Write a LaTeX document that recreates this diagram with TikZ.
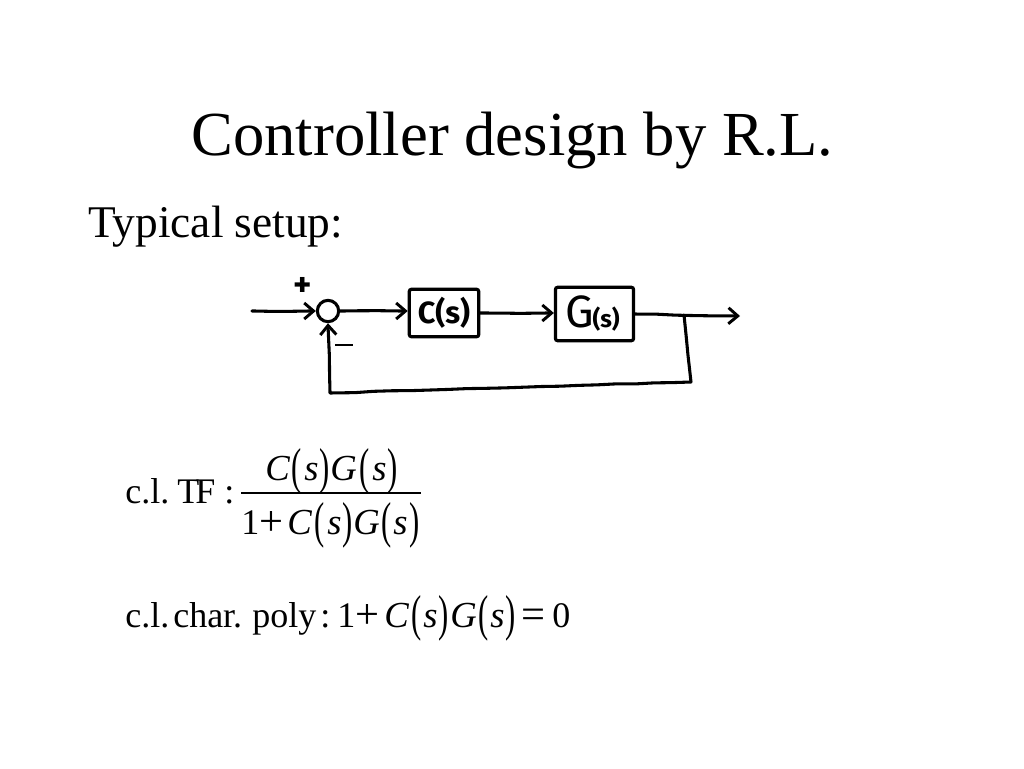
\documentclass[tikz,border=0pt]{standalone}
\usepackage{fontspec}
\setmainfont{Liberation Serif}
\newfontfamily\handfont{Fira Sans}
\usetikzlibrary{arrows.meta,decorations.pathmorphing}
\tikzset{
 x=0.75pt,y=-0.75pt,
 title/.style={inner sep=0,anchor=base west,font=\fontsize{47}{50}\selectfont},
 body/.style={inner sep=0,anchor=base west,font=\fontsize{34}{40}\selectfont},
 mathrm/.style={inner sep=0,anchor=base west,font=\fontsize{27}{30}\selectfont},
 mathit/.style={mathrm,font=\fontsize{27.5}{30}\selectfont\itshape},
 paren/.style={inner sep=0,anchor=base west,font=\fontsize{27}{30}\selectfont},
 hand/.style={line width=2.3pt,line cap=round,line join=round,black,decorate,decoration={random steps,segment length=14pt,amplitude=0.35pt,post length=5pt,pre length=2pt}},
 handarrow/.style={hand,-{Straight Barb[length=7pt,width=12pt,line width=2.2pt]}},
 block/.style={draw,line width=2.4pt,rounded corners=1.5pt,inner sep=0,font=\handfont},
 sum/.style={draw,circle,line width=2.3pt,inner sep=0,minimum size=16pt},
 sign/.style={inner sep=0,font=\handfont\bfseries\fontsize{26}{26}\selectfont},
}
\newcommand{\tallp}[1]{\raisebox{-2.6pt}{\scalebox{0.85}[1.4]{#1}}}
\newcommand{\bigop}[1]{\raisebox{-1pt}{\scalebox{1.18}{#1}}}
\begin{document}
\begin{tikzpicture}
\useasboundingbox (0,0) rectangle (1024,768);
\node[title] (ttl) at (191,155) {Controller design by R.L.};
\node[body] (setup) at (88,237) {Typical setup:};
% block diagram
\coordinate (in) at (252,311);
\node[sum] (sm) at (328,311) {};
\node[block,minimum width=52pt,minimum height=35.5pt] (cs) at (444,313) {\bfseries\fontsize{23}{24}\selectfont C(s)};
\node[block,minimum width=58.5pt,minimum height=40pt] (gs) at (594.5,314) {\kern-3pt\fontsize{34}{30}\selectfont G\kern-1pt\bfseries\fontsize{18}{20}\selectfont (s)};
\coordinate (out) at (740,316);
\coordinate (tap) at (684,315);
\coordinate (c1) at (691,382);
\coordinate (c2) at (330,393);
\draw[handarrow] (in) -- (sm.west);
\draw[handarrow] (sm.east) -- (sm.east -| cs.west);
\draw[handarrow] (cs.east) -- (cs.east -| gs.west);
\draw[handarrow] (gs.east) -- (out);
\draw[handarrow] (tap) -- (c1) -- (c2) -- (sm.south);
\node[sign] (plus) at (303,287) {+};
\node[sign] (minus) at (344,345) {\rule[0pt]{13pt}{2.2pt}};
% c.l. TF
\node[mathrm] (a1) at (125,503) {c.l.};
\node[mathrm] (a2) at (177,503) {T\kern-3ptF};
\node[mathrm] (a3) at (224,503) {:};
\node[mathit] (n1) at (265,480) {C};
\node[paren] (n2) at (291,480) {\tallp{(}};
\node[mathit] (n3) at (304,480) {s};
\node[paren] (n4) at (319,480) {\tallp{)}};
\node[mathit] (n5) at (330,480) {G};
\node[paren] (n6) at (359,480) {\tallp{(}};
\node[mathit] (n7) at (372,480) {s};
\node[paren] (n8) at (387,480) {\tallp{)}};
\coordinate (fl) at (241,493);
\coordinate (fr) at (421,493);
\draw[line width=0.9pt] (fl) -- (fr);
\node[mathrm] (d0) at (241,534) {1};
\node[mathrm] (d1) at (259,534) {\bigop{+}};
\node[mathit] (d2) at (287,534) {C};
\node[paren] (d3) at (314,534) {\tallp{(}};
\node[mathit] (d4) at (327,534) {s};
\node[paren] (d5) at (342,534) {\tallp{)}};
\node[mathit] (d6) at (353,534) {G};
\node[paren] (d7) at (381,534) {\tallp{(}};
\node[mathit] (d8) at (393,534) {s};
\node[paren] (d9) at (409,534) {\tallp{)}};
% char poly
\node[mathrm] (b1) at (125,627) {c.l.};
\node[mathrm] (b2) at (173,627) {char.};
\node[mathrm] (b3) at (252,627) {poly};
\node[mathrm] (b4) at (320,627) {:};
\node[mathrm] (b5) at (337,627) {1};
\node[mathrm] (b6) at (355,627) {\bigop{+}};
\node[mathit] (b7) at (384,627) {C};
\node[paren] (b8) at (411,627) {\tallp{(}};
\node[mathit] (b9) at (423,627) {s};
\node[paren] (b10) at (438,627) {\tallp{)}};
\node[mathit] (b11) at (450,627) {G};
\node[paren] (b12) at (478,627) {\tallp{(}};
\node[mathit] (b13) at (490,627) {s};
\node[paren] (b14) at (505,627) {\tallp{)}};
\node[mathrm] (b15) at (521,627) {\bigop{=}};
\node[mathrm] (b16) at (552,627) {0};
\end{tikzpicture}
\end{document}
